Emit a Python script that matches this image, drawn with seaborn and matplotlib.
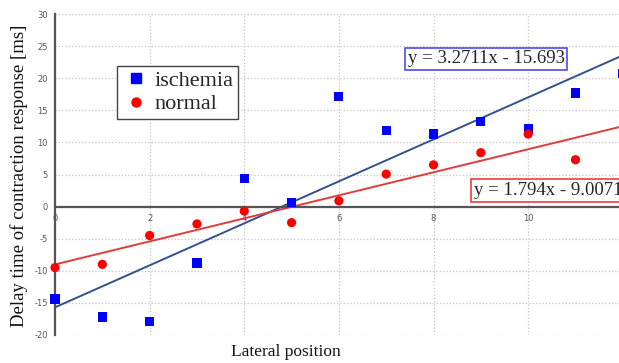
import numpy as np
import pandas as pd
import matplotlib
matplotlib.use("Agg")
import matplotlib.pyplot as plt
import seaborn as sns

# values
pos_isch = [0, 1, 2, 3, 4, 5, 6, 7, 8, 9, 10, 11, 12]
ischemia = [-14.4, -17.2, -17.9, -8.8, 4.4, 0.65, 17.2, 11.8, 11.3, 13.3, 12.1, 17.7, 20.7]
pos_norm = [0, 1, 2, 3, 4, 5, 6, 7, 8, 9, 10, 11]
normal = [-9.5, -9.0, -4.5, -2.7, -0.7, -2.5, 0.9, 5.06, 6.5, 8.4, 11.3, 7.3]

# trend line coefficients (slope, intercept) as printed on the chart
fit_isch = (3.2711, -15.693)
fit_norm = (1.794, -9.0071)

df = pd.concat([
    pd.DataFrame({"pos": pos_isch, "delay": ischemia, "group": "ischemia"}),
    pd.DataFrame({"pos": pos_norm, "delay": normal, "group": "normal"}),
])

sns.set_style("white")
plt.rcParams["axes.unicode_minus"] = False
serif = ["Liberation Serif", "DejaVu Serif"]

fig = plt.figure(figsize=(6.19, 3.63), dpi=100)
ax = fig.add_axes([55 / 619, 28 / 363, 564 / 619, 321 / 363])

xmax = 11.92
ax.set_xlim(0, xmax)
ax.set_ylim(-20, 30)

# grid
ax.set_xticks([0, 2, 4, 6, 8, 10])
ax.set_yticks(np.arange(-20, 31, 5))
ax.grid(True, linestyle=":", color="#c4c4c4", linewidth=0.9)
ax.set_axisbelow(True)

# trend lines
xx = np.array([0, xmax])
ax.plot(xx, fit_isch[0] * xx + fit_isch[1], color="#33508f", lw=1.4, zorder=2)
ax.plot(xx, fit_norm[0] * xx + fit_norm[1], color="#e03c3c", lw=1.4, zorder=2)

sns.scatterplot(data=df, x="pos", y="delay", hue="group", style="group",
                palette={"ischemia": "#0000ff", "normal": "#ff0000"},
                markers={"ischemia": "s", "normal": "o"},
                s=44, linewidth=0, ax=ax, zorder=3, clip_on=False, legend=False)

# spines / axis at zero
for side in ["top", "right"]:
    ax.spines[side].set_visible(False)
ax.spines["bottom"].set_position(("data", 0))
ax.spines["bottom"].set_color("#555555")
ax.spines["bottom"].set_linewidth(1.6)
ax.spines["left"].set_color("#555555")
ax.spines["left"].set_linewidth(1.6)
ax.tick_params(axis="both", labelsize=6, colors="#555555", length=3, width=0.8,
               direction="out", pad=2)

ax.set_xlabel("Lateral position", family=serif, fontsize=12.5, color="#111111")
ax.xaxis.set_label_coords(0.41, -0.028)
ax.set_ylabel("Delay time of contraction response [ms]", family=serif,
              fontsize=13.5, color="#111111")
ax.yaxis.set_label_coords(-0.048, 0.495)

# legend
from matplotlib.lines import Line2D
handles = [
    Line2D([], [], marker="s", color="#0000ff", linestyle="none", markersize=6.5),
    Line2D([], [], marker="o", color="#ff0000", linestyle="none", markersize=6.5),
]
leg = ax.legend(handles, ["ischemia", "normal"], loc="upper left",
                bbox_to_anchor=(0.09, 0.872), prop={"family": serif, "size": 16},
                fancybox=False, framealpha=1, edgecolor="#444444",
                handletextpad=0.2, handlelength=1.3, borderpad=0.2,
                labelspacing=0.12)
leg.get_frame().set_linewidth(1.0)

# equation boxes
ax.text(7.45, 23.0, "y = 3.2711x - 15.693", family=serif, fontsize=13.5,
        ha="left", va="center", zorder=5,
        bbox=dict(boxstyle="square,pad=0.15", fc="white", ec="#4a4af0", lw=1.2))
ax.text(8.85, 2.5, "y = 1.794x - 9.0071", family=serif, fontsize=13.5,
        ha="left", va="center", zorder=5,
        bbox=dict(boxstyle="square,pad=0.15", fc="white", ec="#e84040", lw=1.2))

fig.savefig("out.png", dpi=100)
